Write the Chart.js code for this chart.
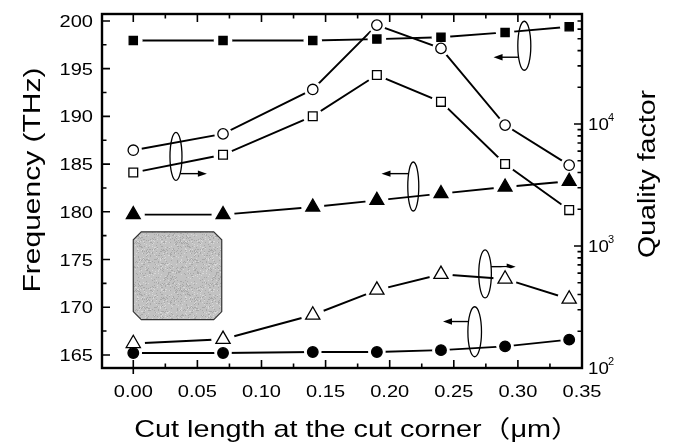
<!DOCTYPE html>
<html>
<head>
<meta charset="utf-8">
<script src="https://cdn.jsdelivr.net/npm/chart.js@4.4.1/dist/chart.umd.min.js"></script>
<style>
  html, body { margin: 0; padding: 0; background: #fff; }
  #wrap { width: 674px; height: 445px; }
</style>
</head>
<body>
<div id="wrap"><canvas id="chart" width="674" height="445"></canvas></div>
<script>
// cut length at the corner (um)
const cutLength = [0, 0.07, 0.14, 0.19, 0.24, 0.29, 0.34];

// resonance frequencies (THz), left axis
const freqSquare = [197.95, 197.95, 197.95, 198.1, 198.3, 198.8, 199.4];
const freqTriangle = [179.7, 179.7, 180.5, 181.2, 181.9, 182.6, 183.2];
const freqCircle = [165.2, 165.2, 165.3, 165.3, 165.5, 165.9, 166.6];

// quality factors, right (log) axis
const qCircle = [6100, 8300, 19200, 64700, 41700, 9800, 4600];
const qSquare = [4000, 5600, 11600, 25200, 15200, 4700, 1970];
const qTriangle = [159, 172, 272, 435, 586, 537, 368];

// axis ticks
const xTicks = [0, 0.05, 0.10, 0.15, 0.20, 0.25, 0.30, 0.35];
const freqTicks = [165, 170, 175, 180, 185, 190, 195, 200];
const qTicks = [100, 1000, 10000];
const qTickExp = ['2', '3', '4'];

const FONT = '"Liberation Sans", Arial, "Noto Sans CJK SC", sans-serif';

const series = [
  { values: freqSquare, axis: 'yF', style: 'rect', filled: true, r: 5.8 },
  { values: freqTriangle, axis: 'yF', style: 'triangle', filled: true, r: 8 },
  { values: freqCircle, axis: 'yF', style: 'circle', filled: true, r: 5.3 },
  { values: qCircle, axis: 'yQ', style: 'circle', filled: false, r: 5.2 },
  { values: qSquare, axis: 'yQ', style: 'rect', filled: false, r: 6.2 },
  { values: qTriangle, axis: 'yQ', style: 'triangle', filled: false, r: 8.2 }
];

// each series: plain line underneath, a white halo that opens a gap, then the marker
const datasets = [];
series.forEach(s => {
  const pts = cutLength.map((x, i) => ({ x, y: s.values[i] }));
  datasets.push({
    data: pts, yAxisID: s.axis, showLine: true, borderColor: '#000', borderWidth: 1.9,
    pointRadius: 0, order: 3
  });
  datasets.push({
    data: pts, yAxisID: s.axis, showLine: false, pointStyle: 'circle',
    pointRadius: s.r + 3.5, pointBackgroundColor: '#fff', pointBorderWidth: 0, order: 2
  });
  datasets.push({
    data: pts, yAxisID: s.axis, showLine: false, pointStyle: s.style, pointRadius: s.r,
    pointBackgroundColor: s.filled ? '#000' : '#fff', pointBorderColor: '#000',
    pointBorderWidth: 1.3, order: 1
  });
});

// ellipse markers tying each curve to its axis (center in data units, radii in px)
const pointers = [
  { x: 0.0333, f: 185.8, rx: 6, ry: 24, ay: 184.0, to: 0.0574, dir: 1 },
  { x: 0.305, f: 197.4, rx: 6.5, ry: 24.5, ay: 196.2, to: 0.281, dir: -1 },
  { x: 0.2184, f: 182.65, rx: 5.5, ry: 24.5, ay: 184.0, to: 0.1936, dir: -1 },
  { x: 0.2744, f: 173.5, rx: 6.3, ry: 24, ay: 174.25, to: 0.2983, dir: 1 },
  { x: 0.2663, f: 167.43, rx: 6.8, ry: 25, ay: 168.5, to: 0.2416, dir: -1 }
];

// sketch of the cut-corner cavity
const inset = { x0: 0, x1: 0.069, f0: 168.7, f1: 177.9, cut: 8 };

function drawText(ctx, str, x, y, o) {
  ctx.save();
  ctx.translate(x, y);
  if (o.rotate) ctx.rotate(o.rotate);
  ctx.scale(o.sx || 1, 1);
  ctx.font = o.size + 'px ' + FONT;
  ctx.fillStyle = '#000';
  ctx.textAlign = o.align || 'center';
  ctx.textBaseline = o.baseline || 'alphabetic';
  ctx.fillText(str, 0, 0);
  ctx.restore();
}

function grainPattern(ctx) {
  const c = document.createElement('canvas');
  c.width = 48; c.height = 48;
  const g = c.getContext('2d');
  g.fillStyle = '#c2c2c2';
  g.fillRect(0, 0, 48, 48);
  let seed = 7;
  for (let i = 0; i < 48 * 48; i++) {
    seed = (seed * 1103515245 + 12345) & 0x7fffffff;
    const v = seed % 100;
    if (v < 12) { g.fillStyle = '#a8a8a8'; g.fillRect(i % 48, Math.floor(i / 48), 1, 1); }
    else if (v > 88) { g.fillStyle = '#d8d8d8'; g.fillRect(i % 48, Math.floor(i / 48), 1, 1); }
  }
  return ctx.createPattern(c, 'repeat');
}

const decorations = {
  id: 'decorations',
  beforeDraw(chart) {
    const ctx = chart.ctx;
    ctx.save();
    ctx.fillStyle = '#fff';
    ctx.fillRect(0, 0, chart.width, chart.height);
    ctx.restore();
  },
  beforeDatasetsDraw(chart) {
    const ctx = chart.ctx;
    const xs = chart.scales.x, ys = chart.scales.yF;
    ctx.save();

    // cavity inset
    const l = xs.getPixelForValue(inset.x0), r = xs.getPixelForValue(inset.x1);
    const t = ys.getPixelForValue(inset.f1), b = ys.getPixelForValue(inset.f0);
    const c = inset.cut;
    ctx.beginPath();
    ctx.moveTo(l + c, t); ctx.lineTo(r - c, t); ctx.lineTo(r, t + c); ctx.lineTo(r, b - c);
    ctx.lineTo(r - c, b); ctx.lineTo(l + c, b); ctx.lineTo(l, b - c); ctx.lineTo(l, t + c);
    ctx.closePath();
    ctx.fillStyle = grainPattern(ctx);
    ctx.fill();
    ctx.strokeStyle = '#333';
    ctx.lineWidth = 1.2;
    ctx.stroke();

    // ellipses with arrows
    ctx.strokeStyle = '#000';
    ctx.fillStyle = '#000';
    pointers.forEach(p => {
      const cx = xs.getPixelForValue(p.x), cy = ys.getPixelForValue(p.f);
      ctx.lineWidth = 1.3;
      ctx.beginPath();
      ctx.ellipse(cx, cy, p.rx, p.ry, 0, 0, Math.PI * 2);
      ctx.stroke();
      const ay = ys.getPixelForValue(p.ay);
      const dy = (ay - cy) / p.ry;
      const x0 = cx + p.dir * p.rx * Math.sqrt(Math.max(0, 1 - dy * dy));
      const x1 = xs.getPixelForValue(p.to);
      ctx.lineWidth = 1.4;
      ctx.beginPath();
      ctx.moveTo(x0, ay);
      ctx.lineTo(x1 - p.dir * 6, ay);
      ctx.stroke();
      ctx.beginPath();
      ctx.moveTo(x1, ay);
      ctx.lineTo(x1 - p.dir * 9, ay - 3.2);
      ctx.lineTo(x1 - p.dir * 9, ay + 3.2);
      ctx.closePath();
      ctx.fill();
    });
    ctx.restore();
  },
  afterDatasetsDraw(chart) {
    const ctx = chart.ctx;
    const a = chart.chartArea;
    const xs = chart.scales.x, ys = chart.scales.yF, yq = chart.scales.yQ;
    ctx.save();
    ctx.strokeStyle = '#000';

    // inward ticks on all four sides
    ctx.lineWidth = 1.6;
    ctx.beginPath();
    const tick = (x0, y0, x1, y1) => { ctx.moveTo(x0, y0); ctx.lineTo(x1, y1); };
    xTicks.forEach((v, i) => {
      const x = xs.getPixelForValue(v);
      tick(x, a.bottom, x, a.bottom - 8);
      tick(x, a.top, x, a.top + 8);
      if (i < xTicks.length - 1) {
        const m = xs.getPixelForValue(v + 0.025);
        tick(m, a.bottom, m, a.bottom - 4.5);
        tick(m, a.top, m, a.top + 4.5);
      }
    });
    tick(xs.getPixelForValue(0), a.bottom, xs.getPixelForValue(0), a.bottom + 6);
    freqTicks.forEach((v, i) => {
      const y = ys.getPixelForValue(v);
      tick(a.left, y, a.left + 8, y);
      if (i < freqTicks.length - 1) {
        const m = ys.getPixelForValue(v + 2.5);
        tick(a.left, m, a.left + 4.5, m);
      }
    });
    qTicks.forEach(d => {
      const y = yq.getPixelForValue(d);
      tick(a.right, y, a.right - 8, y);
      for (let k = 2; k <= 9; k++) {
        const v = d * k;
        if (v > yq.max) break;
        const m = yq.getPixelForValue(v);
        tick(a.right, m, a.right - 4.5, m);
      }
    });
    ctx.stroke();

    // frame
    ctx.lineWidth = 2.4;
    ctx.strokeRect(a.left, a.top, a.right - a.left, a.bottom - a.top);
    ctx.restore();

    // tick labels
    xTicks.forEach(v => {
      drawText(ctx, v.toFixed(2), xs.getPixelForValue(v), 397, { size: 17, sx: 1.18 });
    });
    freqTicks.forEach(v => {
      drawText(ctx, String(v), 93, ys.getPixelForValue(v) + 6, { size: 17, sx: 1.18, align: 'right' });
    });
    qTicks.forEach((v, i) => {
      const y = yq.getPixelForValue(v);
      drawText(ctx, '10', 588, y + 6, { size: 17, sx: 1.1, align: 'left' });
      drawText(ctx, qTickExp[i], 608, y - 3, { size: 10, sx: 1.1, align: 'left' });
    });

    // axis titles
    drawText(ctx, 'Cut length at the cut corner\uFF08\u03BCm\uFF09', 357, 437, { size: 24, sx: 1.2 });
    drawText(ctx, 'Frequency (THz)', 40, 180, { size: 24, sx: 1.25, rotate: -Math.PI / 2 });
    drawText(ctx, 'Quality factor', 655, 174, { size: 23, sx: 1.24, rotate: -Math.PI / 2 });
  }
};

new Chart(document.getElementById('chart'), {
  type: 'scatter',
  data: { datasets },
  options: {
    responsive: false,
    devicePixelRatio: 1,
    animation: false,
    events: [],
    layout: { padding: { left: 102, right: 92, top: 14, bottom: 77 } },
    plugins: { legend: { display: false }, tooltip: { enabled: false } },
    scales: {
      x: { type: 'linear', min: -0.0244, max: 0.35, display: false },
      yF: { type: 'linear', position: 'left', min: 163.63, max: 200.73, display: false },
      yQ: { type: 'logarithmic', position: 'right', min: 100, max: 79800, display: false }
    }
  },
  plugins: [decorations]
});
</script>
</body>
</html>
